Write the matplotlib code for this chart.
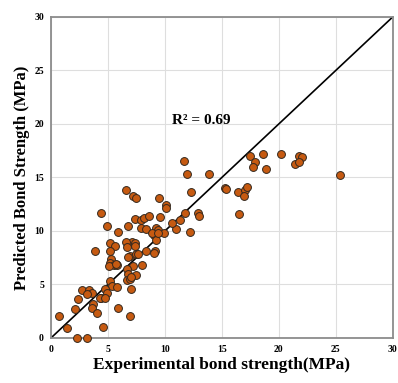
import numpy as np
import matplotlib.pyplot as plt

# experimental vs predicted bond strength (MPa)
experimental = [
    11.7, 11.9, 13.9, 17.5, 18.6, 17.9, 17.7, 18.9, 20.2, 21.8, 22.0, 21.4, 21.8, 25.4,
    12.3, 15.3, 15.4, 16.4, 17.0, 17.2, 16.9, 16.5, 11.8, 12.9, 13.0, 12.2, 11.0, 11.3,
    10.6, 10.1, 10.1, 9.5, 6.6, 7.2, 7.5, 4.4, 4.9, 5.9, 6.8, 7.4, 7.9, 8.2, 8.6, 7.9,
    8.3, 9.6, 9.2, 9.4, 9.9, 9.0, 9.2, 9.1, 7.1, 7.4, 8.9, 9.4,
    5.2, 5.6, 6.6, 6.7, 7.4, 3.9, 5.2, 5.3, 5.2, 5.5, 5.1, 5.8, 6.9, 7.5, 8.3, 9.0,
    7.2, 6.7, 6.8, 7.5, 6.7, 6.9, 7.0, 8.0, 5.2, 5.4, 5.8, 4.7, 4.9, 4.4, 4.3, 2.7,
    3.3, 3.6, 2.4, 3.2, 3.7, 3.6, 4.0, 2.1, 5.9, 6.9, 0.7, 1.4, 4.6, 2.3, 3.2,
    6.8, 7.6, 5.7, 7.0, 4.7,
]
predicted = [
    16.5, 15.3, 15.3, 17.0, 17.2, 16.4, 16.0, 15.8, 17.2, 17.0, 16.9, 16.3, 16.4, 15.2,
    13.6, 14.0, 13.9, 13.6, 13.8, 14.1, 13.3, 11.6, 11.7, 11.7, 11.4, 9.9, 10.2, 11.0,
    10.7, 12.4, 12.1, 13.1, 13.8, 13.3, 13.1, 11.7, 10.5, 9.9, 10.5, 11.1, 11.0, 11.2, 11.4, 10.3,
    10.2, 11.3, 10.3, 10.1, 9.8, 9.6, 9.2, 8.1, 9.0, 8.9, 9.8, 9.8,
    8.9, 8.6, 9.0, 8.5, 8.6, 8.1, 8.1, 7.4, 7.0, 6.8, 6.7, 6.8, 7.7, 7.8, 8.1, 7.9,
    6.7, 6.4, 6.0, 5.9, 5.4, 5.5, 4.6, 6.8, 5.3, 4.9, 4.8, 4.6, 4.2, 3.7, 3.7, 4.5,
    4.5, 4.2, 3.6, 4.1, 3.2, 2.8, 2.3, 2.7, 2.8, 2.1, 2.1, 0.9, 1.0, 0.0, 0.0,
    7.6, 7.8, 6.9, 5.7, 3.7,
]
ticks = [0, 5, 10, 15, 20, 25, 30]
r2_label = 'R² = 0.69'

plt.rcParams['font.family'] = ['Liberation Serif', 'DejaVu Serif']

fig = plt.figure(figsize=(3.98, 3.83), dpi=100)
ax = fig.add_axes([0.128, 0.1175, 0.859, 0.8385])

ax.plot([0, 30], [0, 30], color='black', lw=1.2, zorder=2)
ax.scatter(experimental, predicted, s=32, facecolor='#c65a11', edgecolor='#33281e',
           linewidth=0.7, zorder=3, clip_on=False)

ax.set_xlim(0, 30)
ax.set_ylim(0, 30)
ax.set_xticks(ticks)
ax.set_yticks(ticks)
ax.tick_params(length=0, labelsize=7, pad=5)
for lab in ax.get_xticklabels() + ax.get_yticklabels():
    lab.set_fontweight('bold')
ax.grid(True, color='#dedede', lw=0.8)
ax.set_axisbelow(True)
for sp in ax.spines.values():
    sp.set_color('#8c8c8c')
    sp.set_linewidth(1.3)

ax.text(13.2, 20.3, r2_label, fontsize=11, fontweight='bold', ha='center', va='center')
ax.set_xlabel('Experimental bond strength(MPa)', fontsize=12.5, fontweight='bold', labelpad=2)
ax.set_ylabel('Predicted Bond Strength (MPa)', fontsize=12, fontweight='bold', labelpad=3)

fig.savefig('out.png', dpi=100)
